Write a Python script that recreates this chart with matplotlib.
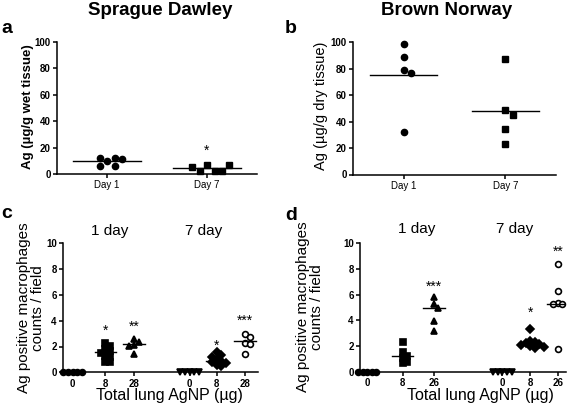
import numpy as np
import matplotlib
matplotlib.use('Agg')
import matplotlib.pyplot as plt

plt.rcParams['font.family'] = ['Liberation Sans', 'DejaVu Sans']

# ---- panel a: Sprague Dawley, ug/g wet tissue
A_DAYS = ['Day 1', 'Day 7']
A_DAY1 = [10.0, 12.4, 12.4, 11.5, 6.3, 6.3]
A_DAY7 = [7.0, 2.5, 2.0, 2.5, 5.5, 7.0]
A_LINE = [10.0, 4.8]
A_STARS = ['', '*']
A_STAR_Y = [0, 21]

# ---- panel b: Brown Norway, ug/g dry tissue
B_DAY1 = [98.7, 89.0, 78.6, 76.6, 31.7]
B_DAY7 = [87.4, 48.9, 45.0, 34.5, 22.7]
B_LINE = [74.9, 47.7]

# ---- panels c/d: Ag positive macrophages counts / field
C_TICKS = ['0', '8', '28', '0', '8', '28']
C_GROUPS = [
    [0, 0, 0, 0, 0],
    [2.3, 2.05, 1.8, 1.65, 1.5, 1.25, 1.2, 0.8, 0.8],
    [2.6, 2.35, 2.15, 2.05, 1.4],
    [0, 0, 0, 0, 0],
    [1.55, 1.35, 1.2, 1.05, 0.9, 0.8, 0.7, 0.6, 0.5],
    [3.0, 2.7, 2.3, 2.2, 1.45],
]
C_LINE = [0, 1.6, 2.2, 0, 0.9, 2.4]
C_STARS = ['', '*', '**', '', '*', '***']
C_STAR_Y = [0, 3.6, 3.9, 0, 2.4, 4.4]

D_TICKS = ['0', '8', '26', '0', '8', '26']
D_GROUPS = [
    [0, 0, 0, 0, 0],
    [2.3, 1.5, 1.25, 1.1, 0.75, 0.7],
    [5.85, 5.3, 4.95, 3.95, 3.2],
    [0, 0, 0, 0, 0],
    [3.35, 2.4, 2.3, 2.2, 2.15, 2.1, 2.0, 1.95, 1.85],
    [8.4, 6.3, 5.35, 5.3, 5.25, 1.75],
]
D_LINE = [0, 1.25, 5.0, 0, 2.2, 5.3]
D_STARS = ['', '', '***', '', '*', '**']
D_STAR_Y = [0, 0, 7.0, 0, 5.0, 9.7]

MARKERS = ['o', 's', '^', 'v', 'D', 'o']
FILLED = [True, True, True, True, True, False]

W, H = 567, 407


def px_axes(fig, left, right, top, bottom):
    return fig.add_axes([left / W, 1 - bottom / H, (right - left) / W, (bottom - top) / H])


def style(ax):
    for s in ['top', 'right']:
        ax.spines[s].set_visible(False)
    for s in ['left', 'bottom']:
        ax.spines[s].set_linewidth(1.1)
    ax.tick_params(width=1.1, length=3, labelsize=7, pad=1.5)
    for lab in ax.get_yticklabels():
        lab.set_fontweight('bold')


def swarm(ax, x0, vals, sep):
    # simple beeswarm in pixel space
    tr = ax.transData
    placed = []
    xs = []
    for v in vals:
        px, py = tr.transform((x0, v))
        for k in range(0, 40):
            off = ((k + 1) // 2) * sep * (1 if k % 2 else -1) if k else 0
            ok = all(np.hypot(px + off - qx, py - qy) >= sep - 1e-3 for qx, qy in placed)
            if ok:
                break
        placed.append((px + off, py))
        xs.append(tr.inverted().transform((px + off, py))[0])
    return xs


def star(ax, x, y, s):
    # asterisks sit high in the em box, nudge down so the glyph centres on y
    ax.annotate(s, (x, y), xytext=(0, -3.5), textcoords='offset points',
                ha='center', va='center', fontsize=10)


fig = plt.figure(figsize=(W / 100, H / 100), dpi=100)

# ---- a
ax = px_axes(fig, 57, 257, 42, 174)
ax.set_xlim(0.5, 2.5)
ax.set_ylim(0, 100)
ax.set_yticks(range(0, 101, 20))
ax.set_xticks([1, 2])
ax.set_xticklabels(A_DAYS)
style(ax)
for i, (vals, m) in enumerate([(A_DAY1, 'o'), (A_DAY7, 's')]):
    xs = swarm(ax, i + 1, vals, 7.5)
    ax.plot(xs, vals, m, color='black', ms=4.5, clip_on=False, zorder=3)
    ax.plot([i + 1 - 0.34, i + 1 + 0.34], [A_LINE[i]] * 2, color='black', lw=1.0)
    if A_STARS[i]:
        star(ax, i + 1, A_STAR_Y[i], A_STARS[i])
fig.text(27.5 / W, 1 - 107 / H, 'Ag (µg/g wet tissue)', rotation=90, ha='center', va='center',
         fontsize=9.5, fontweight='bold')

# ---- b
ax = px_axes(fig, 353, 556, 42, 174.5)
ax.set_xlim(0.5, 2.5)
ax.set_ylim(0, 100)
ax.set_yticks(range(0, 101, 20))
ax.set_xticks([1, 2])
ax.set_xticklabels(A_DAYS)
style(ax)
for i, (vals, m) in enumerate([(B_DAY1, 'o'), (B_DAY7, 's')]):
    xs = swarm(ax, i + 1, vals, 7.5)
    ax.plot(xs, vals, m, color='black', ms=4.5, clip_on=False, zorder=3)
    ax.plot([i + 1 - 0.33, i + 1 + 0.33], [B_LINE[i]] * 2, color='black', lw=1.0)
fig.text(321 / W, 1 - 106 / H, 'Ag (µg/g dry tissue)', rotation=90, ha='center', va='center',
         fontsize=10.5)


def macro_panel(ax, groups, lines, stars, star_y, ticks, pos, xlim):
    ax.set_xlim(*xlim)
    ax.set_ylim(0, 10)
    ax.set_yticks(range(0, 11, 2))
    ax.set_xticks(pos)
    ax.set_xticklabels(ticks, fontweight='bold')
    style(ax)
    for i, vals in enumerate(groups):
        xs = swarm(ax, pos[i], vals, 4.6)
        ax.plot(xs, vals, MARKERS[i], ms=4.2 if MARKERS[i] != 'D' else 3.6,
                color='black', mfc='black' if FILLED[i] else 'white', mew=1.2,
                clip_on=False, zorder=3)
        if lines[i] > 0:
            ax.plot([pos[i] - 0.38, pos[i] + 0.38], [lines[i]] * 2, color='black', lw=1.0, zorder=4)
        if stars[i]:
            star(ax, pos[i], star_y[i], stars[i])


# ---- c
ax = px_axes(fig, 63, 258, 243.3, 372.3)
macro_panel(ax, C_GROUPS, C_LINE, C_STARS, C_STAR_Y, C_TICKS,
            [0, 1.15, 2.15, 4.1, 5.05, 6.05], (-0.34, 6.5))
fig.text(31 / W, 1 - 308 / H, 'Ag positive macrophages\ncounts / field', rotation=90,
         ha='center', va='center', multialignment='center', fontsize=11, linespacing=1.0)
fig.text(110 / W, 1 - 235 / H, '1 day', ha='center', va='baseline', fontsize=11)
fig.text(204 / W, 1 - 235 / H, '7 day', ha='center', va='baseline', fontsize=11)
fig.text(169 / W, 1 - 400 / H, 'Total lung AgNP (µg)', ha='center', va='baseline', fontsize=11.5)

# ---- d
ax = px_axes(fig, 360, 566, 243.3, 371.7)
macro_panel(ax, D_GROUPS, D_LINE, D_STARS, D_STAR_Y, D_TICKS,
            [0, 1.25, 2.35, 4.76, 5.74, 6.71], (-0.25, 7.0))
fig.text(310 / W, 1 - 307 / H, 'Ag positive macrophages\ncounts / field', rotation=90,
         ha='center', va='center', multialignment='center', fontsize=11, linespacing=1.0)
fig.text(417 / W, 1 - 233 / H, '1 day', ha='center', va='baseline', fontsize=11)
fig.text(515 / W, 1 - 233 / H, '7 day', ha='center', va='baseline', fontsize=11)
fig.text(480 / W, 1 - 400 / H, 'Total lung AgNP (µg)', ha='center', va='baseline', fontsize=11.5)

# ---- titles and panel letters
fig.text(160 / W, 1 - 15 / H, 'Sprague Dawley', ha='center', va='baseline', fontsize=13.5, fontweight='bold')
fig.text(447 / W, 1 - 15 / H, 'Brown Norway', ha='center', va='baseline', fontsize=13.5, fontweight='bold')
for lab, x, y in [('a', 1, 33), ('b', 285, 33), ('c', 1, 218), ('d', 285, 220)]:
    fig.text(x / W, 1 - y / H, lab, ha='left', va='baseline', fontsize=14, fontweight='bold')

fig.savefig('out.png', dpi=100)
